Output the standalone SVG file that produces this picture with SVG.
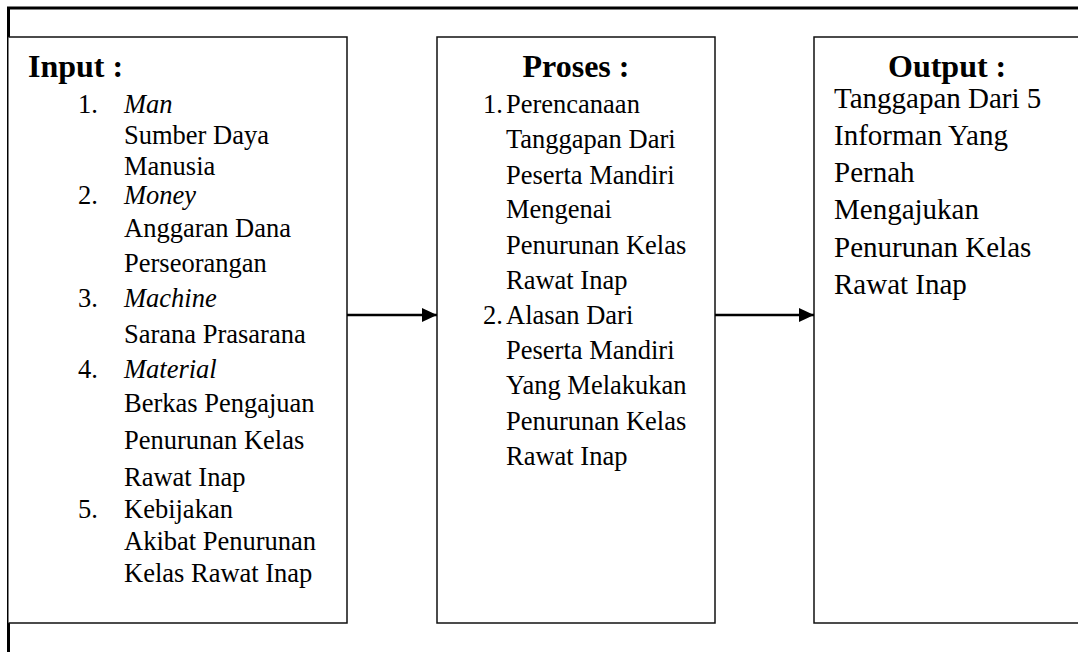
<svg xmlns="http://www.w3.org/2000/svg" width="1078" height="652" viewBox="0 0 1078 652">
<style>
.frame{fill:none;stroke:#000;stroke-width:3}
.box{fill:#fff;stroke:#111;stroke-width:1.5}
.t{font-family:"Liberation Serif","Times New Roman",serif;font-size:26.5px;fill:#000}
.o{font-size:29px}
.h{font-family:"Liberation Serif","Times New Roman",serif;font-size:32px;font-weight:bold;fill:#000}
.i{font-style:italic}
.conn{stroke:#000;stroke-width:2.4;fill:none}
</style>
<defs>
<marker id="arr" markerWidth="16" markerHeight="14" refX="15" refY="7" orient="auto" markerUnits="userSpaceOnUse">
<path d="M0,0 L15,7 L0,14 Z" fill="#000"/>
</marker>
</defs>
<rect width="1078" height="652" fill="#fff"/>
<g id="frame">
<path class="frame" d="M8.5,660 V8 H1090"/>
</g>
<g id="input">
<path class="box" d="M8.5,37 H347 V623 H8.5"/>
<text class="h" x="28" y="77">Input :</text>
<g class="t">
<text x="78" y="113">1.</text><text class="i" x="124" y="113">Man</text>
<text x="124" y="144">Sumber Daya</text>
<text x="124" y="175">Manusia</text>
<text x="78" y="204">2.</text><text class="i" x="124" y="204">Money</text>
<text x="124" y="237">Anggaran Dana</text>
<text x="124" y="272">Perseorangan</text>
<text x="78" y="307">3.</text><text class="i" x="124" y="307">Machine</text>
<text x="124" y="343">Sarana Prasarana</text>
<text x="78" y="378">4.</text><text class="i" x="124" y="378">Material</text>
<text x="124" y="412">Berkas Pengajuan</text>
<text x="124" y="449">Penurunan Kelas</text>
<text x="124" y="486">Rawat Inap</text>
<text x="78" y="518">5.</text><text x="124" y="518">Kebijakan</text>
<text x="124" y="550">Akibat Penurunan</text>
<text x="124" y="582">Kelas Rawat Inap</text>
</g>
</g>
<g id="proses">
<rect class="box" x="437" y="37" width="278" height="586"/>
<text class="h" x="576" y="77" text-anchor="middle">Proses :</text>
<g class="t">
<text x="483" y="113">1.</text><text x="506" y="113">Perencanaan</text>
<text x="506" y="148">Tanggapan Dari</text>
<text x="506" y="184">Peserta Mandiri</text>
<text x="506" y="218">Mengenai</text>
<text x="506" y="254">Penurunan Kelas</text>
<text x="506" y="289">Rawat Inap</text>
<text x="483" y="324">2.</text><text x="506" y="324">Alasan Dari</text>
<text x="506" y="359">Peserta Mandiri</text>
<text x="506" y="394">Yang Melakukan</text>
<text x="506" y="430">Penurunan Kelas</text>
<text x="506" y="465">Rawat Inap</text>
</g>
</g>
<g id="output">
<rect class="box" x="814" y="37" width="290" height="586"/>
<text class="h" x="888" y="77">Output :</text>
<g class="t o">
<text x="834" y="108">Tanggapan Dari 5</text>
<text x="834" y="145">Informan Yang</text>
<text x="834" y="182">Pernah</text>
<text x="834" y="219">Mengajukan</text>
<text x="834" y="257">Penurunan Kelas</text>
<text x="834" y="294">Rawat Inap</text>
</g>
</g>
<g id="connectors">
<line class="conn" x1="347" y1="315" x2="437" y2="315" marker-end="url(#arr)"/>
<line class="conn" x1="715" y1="315" x2="814" y2="315" marker-end="url(#arr)"/>
</g>
</svg>
